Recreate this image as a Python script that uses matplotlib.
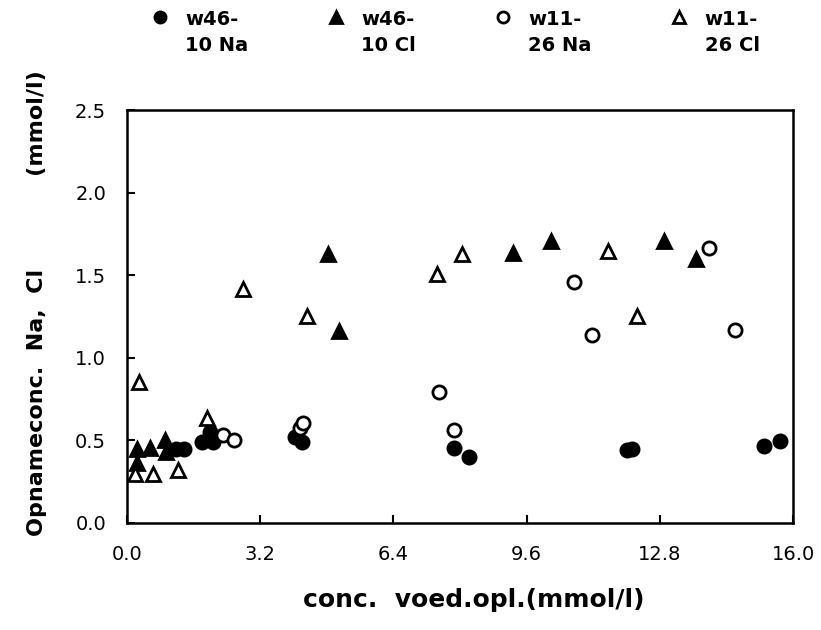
import matplotlib
matplotlib.use("Agg")
import matplotlib.pyplot as plt
from matplotlib.lines import Line2D

plt.rcParams['font.family'] = ['DejaVu Sans']

# w46-10 Na (filled circles)
na46_x = [1.18, 1.38, 1.80, 2.00, 2.07, 4.05, 4.20, 7.85, 8.21, 12.02, 12.14, 15.30, 15.69]
na46_y = [0.45, 0.45, 0.49, 0.55, 0.49, 0.52, 0.49, 0.455, 0.40, 0.44, 0.45, 0.465, 0.495]

# w46-10 Cl (filled triangles)
cl46_x = [0.24, 0.24, 0.56, 0.92, 0.95, 4.82, 5.10, 9.27, 10.18, 12.90, 13.67]
cl46_y = [0.445, 0.365, 0.455, 0.505, 0.43, 1.63, 1.165, 1.635, 1.71, 1.71, 1.60]

# w11-26 Na (open circles)
na11_x = [2.31, 2.58, 4.15, 4.22, 7.49, 7.85, 10.74, 11.16, 13.98, 14.60]
na11_y = [0.53, 0.505, 0.575, 0.605, 0.795, 0.56, 1.46, 1.14, 1.665, 1.17]

# w11-26 Cl (open triangles)
cl11_x = [0.20, 0.28, 0.64, 1.22, 1.92, 2.79, 4.33, 7.44, 8.06, 11.56, 12.24]
cl11_y = [0.295, 0.855, 0.295, 0.32, 0.635, 1.415, 1.255, 1.505, 1.63, 1.65, 1.255]

labels = ["w46-\n10 Na", "w46-\n10 Cl", "w11-\n26 Na", "w11-\n26 Cl"]
xticks = [0.0, 3.2, 6.4, 9.6, 12.8, 16.0]
yticks = [0.0, 0.5, 1.0, 1.5, 2.0, 2.5]

fig = plt.figure(figsize=(8.21, 6.30), dpi=100)
ax = fig.add_axes([0.1545, 0.170, 0.8115, 0.655])

ms = 9.5
kw = dict(linestyle='none', markeredgecolor='black', markeredgewidth=2.0)
ax.plot(na46_x, na46_y, marker='o', markersize=ms, markerfacecolor='black', **kw)
ax.plot(cl46_x, cl46_y, marker='^', markersize=ms, markerfacecolor='black', **kw)
ax.plot(na11_x, na11_y, marker='o', markersize=ms, markerfacecolor='white', **kw)
ax.plot(cl11_x, cl11_y, marker='^', markersize=ms, markerfacecolor='white', **kw)

ax.set_xlim(0, 16)
ax.set_ylim(0, 2.5)
ax.set_xticks(xticks)
ax.set_xticklabels([f"{v:.1f}" for v in xticks])
ax.set_yticks(yticks)
ax.set_yticklabels([f"{v:.1f}" for v in yticks])
ax.tick_params(direction='in', length=6, width=1.5, labelsize=14)
ax.tick_params(axis='x', pad=16)
ax.tick_params(axis='y', pad=15)
for s in ax.spines.values():
    s.set_linewidth(1.8)

ax.set_xlabel("conc.  voed.opl.(mmol/l)", fontsize=18, fontweight='bold')
ax.xaxis.set_label_coords(0.521, -0.158)
ax.set_ylabel("Opnameconc.  Na,  Cl" + " " * 12 + "(mmol/l)", fontsize=16, fontweight='bold')
ax.yaxis.set_label_coords(-0.12, 0.532)

handles = [
    Line2D([], [], marker='o', markersize=8, markerfacecolor='black', **kw),
    Line2D([], [], marker='^', markersize=8, markerfacecolor='black', **kw),
    Line2D([], [], marker='o', markersize=8, markerfacecolor='white', **kw),
    Line2D([], [], marker='^', markersize=8, markerfacecolor='white', **kw),
]
leg = fig.legend(handles, labels, loc='upper left', bbox_to_anchor=(150 / 821, 1 - 10 / 630),
                 ncol=4, frameon=False, handlelength=1.0, handletextpad=0.8,
                 columnspacing=4.0, borderpad=0, borderaxespad=0,
                 prop={'family': 'DejaVu Sans', 'weight': 'bold', 'size': 14})
for t in leg.get_texts():
    t.set_linespacing(1.45)
for col in leg._legend_handle_box.get_children():
    for entry in col.get_children():
        entry.align = "top"

fig.savefig("out.png", dpi=100)
